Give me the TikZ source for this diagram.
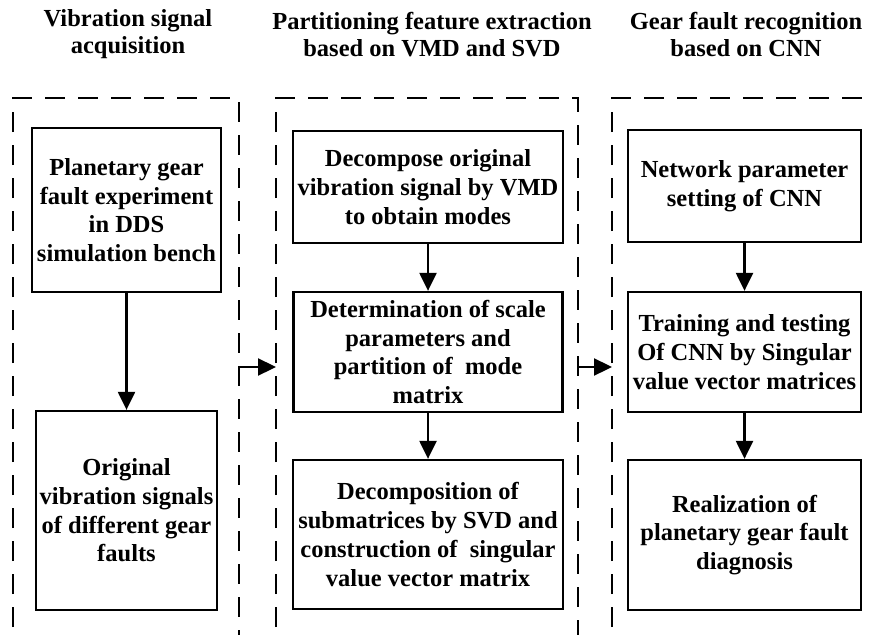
\documentclass[tikz,border=0pt]{standalone}
\usepackage{fontspec}
\setmainfont{Liberation Serif}
\usetikzlibrary{arrows.meta}
\begin{document}
\begin{tikzpicture}[x=1pt,y=-1pt,
  box/.style={draw, line width=2.3pt, align=center, inner sep=0pt,
    font=\fontsize{24.5}{28.7}\selectfont\bfseries},
  title/.style={align=center, inner sep=0pt, font=\fontsize{24.5}{27}\selectfont\bfseries},
  frame/.style={line width=2.6pt, dash pattern=on 20pt off 13pt},
  arr/.style={line width=2.3pt, -{Triangle[length=18pt,width=17pt]}}]
\useasboundingbox (0,0) rectangle (872,634);
\clip (0,0) rectangle (872,634);

% titles
\node[title] (t1) at (128,34.5) {Vibration signal\\acquisition};
\node[title] (t2) at (432,34.5) {Partitioning feature extraction\\based on VMD and SVD};
\node[title] (t3) at (746,34.5) {Gear fault recognition\\based on CNN};

% dashed frames
\draw[frame] (13,660) -- (13,98) -- (239,98) -- (239,660);
\draw[frame] (276,660) -- (276,98) -- (578,98) -- (578,660);
\draw[frame] (612,660) -- (612,98) -- (890,98);
\coordinate (f1r) at (239,367);
\coordinate (f2l) at (276,367);
\coordinate (f2r) at (578,367);
\coordinate (f3l) at (612,367);

% column 1
\node[box, minimum width=189pt, minimum height=164pt] (b1) at (126.5,210)
  {Planetary gear\\fault experiment\\in DDS\\simulation bench};
\node[box, minimum width=181pt, minimum height=199pt] (b2) at (126.5,510.5)
  {Original\\vibration signals\\of different gear\\faults};

% column 2
\node[box, minimum width=270pt, minimum height=112pt] (m1) at (428,187)
  {Decompose original\\vibration signal by VMD\\to obtain modes};
\node[box, minimum width=269pt, minimum height=120pt] (m2) at (428,352)
  {Determination of scale\\parameters and\\partition of \ mode\\matrix};
\node[box, minimum width=270pt, minimum height=149pt] (m3) at (428,534.5)
  {Decomposition of\\submatrices by SVD and\\construction of \ singular\\value vector matrix};

% column 3
\node[box, minimum width=233pt, minimum height=112pt] (r1) at (744.5,186)
  {Network parameter\\setting of CNN};
\node[box, minimum width=233pt, minimum height=120pt] (r2) at (744.5,352)
  {Training and testing\\Of CNN by Singular\\value vector matrices};
\node[box, minimum width=233pt, minimum height=150pt] (r3) at (744.5,535)
  {Realization of\\planetary gear fault\\diagnosis};

% arrows
\draw[arr] (b1) -- (b2);
\draw[arr] (m1) -- (m2);
\draw[arr] (m2) -- (m3);
\draw[arr] (r1) -- (r2);
\draw[arr] (r2) -- (r3);
\draw[arr] (f1r) -- (f2l);
\draw[arr] (f2r) -- (f3l);
\end{tikzpicture}
\end{document}
